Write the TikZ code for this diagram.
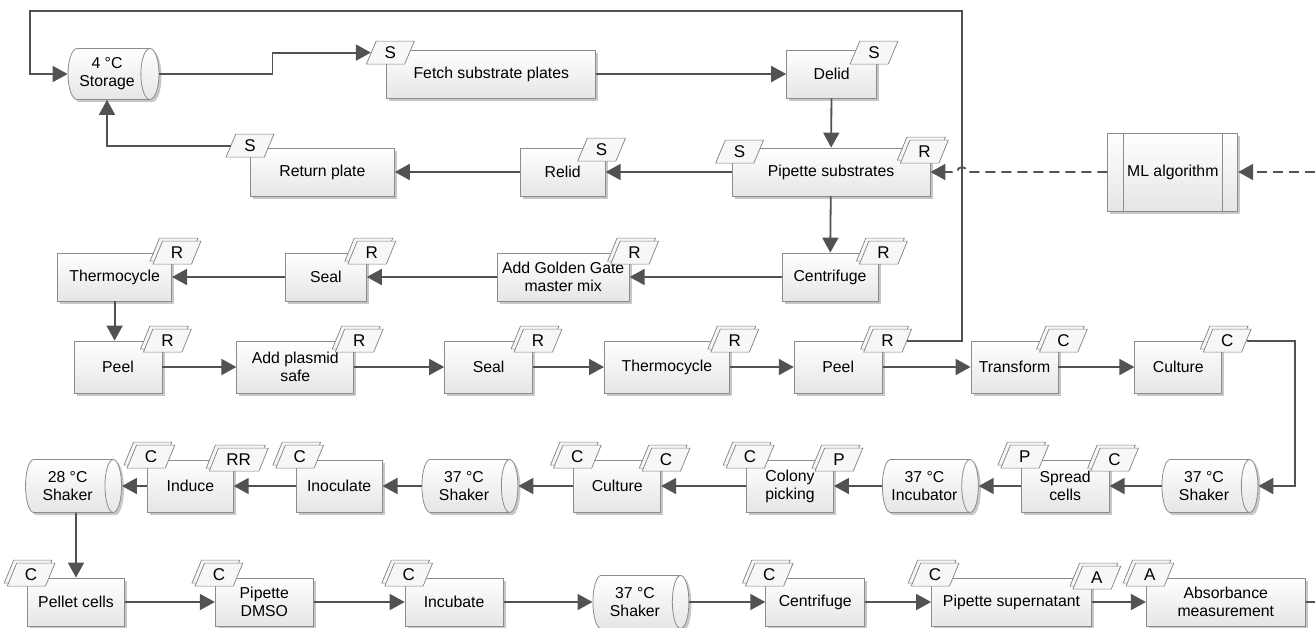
\documentclass[tikz,border=0pt]{standalone}
\usepackage{fontspec}
\setmainfont{Liberation Sans}
\usetikzlibrary{arrows.meta,positioning,calc,shapes.geometric,shadows}

\begin{document}
\begin{tikzpicture}[
  x=1pt, y=-1pt,
  font=\fontsize{15.8}{18}\selectfont,
  stepbox/.style={draw=black!45, line width=0.8pt, top color=white, bottom color=black!10, align=center, inner sep=2pt, minimum height=48pt, drop shadow={shadow xshift=2.5pt, shadow yshift=-2.5pt, fill=black!22, opacity=1}},
  tallbox/.style={stepbox, minimum height=52pt},
  store/.style={stepbox, cylinder, shape aspect=0.5, minimum height=96pt, minimum width=53pt},
  mlbox/.style={stepbox, minimum width=130pt, minimum height=78pt},
  tag/.style={trapezium, trapezium left angle=65, trapezium right angle=115, trapezium stretches=true, draw=black!50, line width=0.7pt, fill=black!3, inner xsep=8pt, inner ysep=4pt, minimum width=48pt, minimum height=23pt, font=\fontsize{17}{17}\selectfont},
  dtag/.style={tag, copy shadow={shadow xshift=-3pt, shadow yshift=3pt, draw=black!50, fill=black!3}},
  arrow/.style={-{Triangle[length=15pt, width=16pt]}, line width=1.8pt, draw=black!68},
  dasharrow/.style={arrow, dash pattern=on 10pt off 6pt},
  conn/.style={line width=1.8pt, draw=black!68}
]
\useasboundingbox (0,0) rectangle (1315,627);

% storage loop
\node[store, minimum height=91pt, minimum width=51pt] (storage) at (107,74) {4 °C\\Storage};
\node[stepbox, minimum width=209pt, right=227pt of storage] (fetch) {Fetch substrate plates};
\node[stepbox, minimum width=90pt, right=190pt of fetch] (delid) {Delid};
\node[stepbox, minimum width=198pt] (pip) at (831,172) {Pipette substrates};
\node[stepbox, minimum width=85pt, left=126pt of pip] (relid) {Relid};
\node[stepbox, minimum width=144pt, left=125pt of relid] (ret) {Return plate};
\node[mlbox, right=177pt of pip] (ml) {ML algorithm};
\draw[black!45, line width=0.8pt] ([xshift=16pt]ml.north west) -- ([xshift=16pt]ml.south west)
  ([xshift=-16pt]ml.north east) -- ([xshift=-16pt]ml.south east);

% golden gate assembly
\node[stepbox, minimum width=96pt] (cfg1) at (830,277) {Centrifuge};
\node[stepbox, minimum width=132pt, left=152pt of cfg1] (addgg) {Add Golden Gate\\master mix};
\node[stepbox, minimum width=81pt, left=130pt of addgg] (seal1) {Seal};
\node[stepbox, minimum width=114pt, left=113pt of seal1] (thermo1) {Thermocycle};
\node[tallbox, minimum width=88pt] (peel1) at (118,367) {Peel};
\node[tallbox, minimum width=117pt, right=74pt of peel1] (plasmid) {Add plasmid\\safe};
\node[tallbox, minimum width=88pt, right=90pt of plasmid] (seal2) {Seal};
\node[tallbox, minimum width=125pt, right=71pt of seal2] (thermo2) {Thermocycle};
\node[tallbox, minimum width=88pt, right=64pt of thermo2] (peel2) {Peel};
\node[tallbox, minimum width=87pt, right=88pt of peel2] (transform) {Transform};
\node[tallbox, minimum width=87pt, right=76pt of transform] (cult1) {Culture};

% cells
\node[store] (shk1) at (1204,486) {37 °C\\Shaker};
\node[tallbox, minimum width=88pt, left=52pt of shk1] (spread) {Spread\\cells};
\node[store, left=42pt of spread] (incub) {37 °C\\Incubator};
\node[tallbox, minimum width=87pt, left=48pt of incub] (colony) {Colony\\picking};
\node[tallbox, minimum width=87pt, left=85pt of colony] (cult2) {Culture};
\node[store, left=55pt of cult2] (shk2) {37 °C\\Shaker};
\node[tallbox, minimum width=86pt, left=39pt of shk2] (inoc) {Inoculate};
\node[tallbox, minimum width=86pt, left=62pt of inoc] (induce) {Induce};
\node[store, left=25pt of induce] (shk28) {28 °C\\Shaker};

% assay
\node[stepbox, minimum width=97pt] (pellet) at (76,602) {Pellet cells};
\node[stepbox, minimum width=98pt, right=90pt of pellet] (dmso) {Pipette\\DMSO};
\node[stepbox, minimum width=98pt, right=91pt of dmso] (incubate) {Incubate};
\node[store, right=89pt of incubate] (shk3) {37 °C\\Shaker};
\node[stepbox, minimum width=99pt, right=76pt of shk3] (cfg2) {Centrifuge};
\node[stepbox, minimum width=160pt, right=66pt of cfg2] (super) {Pipette supernatant};
\node[stepbox, minimum width=159pt, right=54pt of super] (absorb) {Absorbance\\measurement};

\coordinate (loopR) at (962,11);
\coordinate (loopL) at (30,11);
\coordinate (mlin) at (1315,172);
\coordinate (outR) at (1315,602);

\foreach \a/\b in {fetch/delid, delid/pip, pip/relid, relid/ret, pip/cfg1, cfg1/addgg, addgg/seal1, seal1/thermo1,
  peel1/plasmid, plasmid/seal2, seal2/thermo2, thermo2/peel2, peel2/transform, transform/cult1,
  shk1/spread, spread/incub, incub/colony, colony/cult2, cult2/shk2, shk2/inoc, inoc/induce, induce/shk28,
  pellet/dmso, dmso/incubate, incubate/shk3, shk3/cfg2, cfg2/super, super/absorb}{\draw[arrow] (\a) -- (\b);}
\draw[arrow] (thermo1.south) -- (thermo1.south |- peel1.north);
\draw[arrow] (pellet.north |- shk28.south) -- (pellet.north);
\draw[conn] (absorb.east) -- (outR);
\draw[arrow] (peel2.north east) -| (loopR) -- (loopL) |- (storage.west);
\draw[dasharrow] (mlin) -- (ml.east);
\draw[dasharrow] (ml.west) -- ($(pip.east -| loopR)+(5,0)$) arc[start angle=0, end angle=180, radius=5pt] -- (pip.east);

% resource tags
\foreach \b/\a/\dx/\dy in {fetch/north west/4/-3, delid/north east/-3/-3, pip/north west/8/-4, relid/north east/-4/-2, ret/north west/0/2}
  \node[tag] (\b-s) at ([xshift=\dx pt, yshift=\dy pt]\b.\a) {S};
\node[dtag] (pip-r) at ([xshift=-6pt, yshift=-4pt]pip.north east) {R};
\foreach \b/\t in {cfg1/R, addgg/R, seal1/R, thermo1/R, peel1/R, plasmid/R, seal2/R, thermo2/R, peel2/R, transform/C, cult1/C,
  spread/C, colony/P, cult2/C, induce/RR, super/A}
  \node[dtag] (\b-r) at ([xshift=5pt]\b.north east) {\t};
\foreach \b/\t in {spread/P, colony/C, cult2/C, inoc/C, induce/C, pellet/C, dmso/C, incubate/C, cfg2/C, super/C, absorb/A}
  \node[dtag] (\b-l) at ([xshift=4pt, yshift=3pt]\b.north west) {\t};

\draw[arrow] (storage.east) -- ++(113,0) |- (fetch-s.west);
\draw[arrow] (ret-s.west) -| (storage.south);
\draw[arrow] (cult1-r.east) -- ++(48,0) |- (shk1.east);
\end{tikzpicture}
\end{document}
